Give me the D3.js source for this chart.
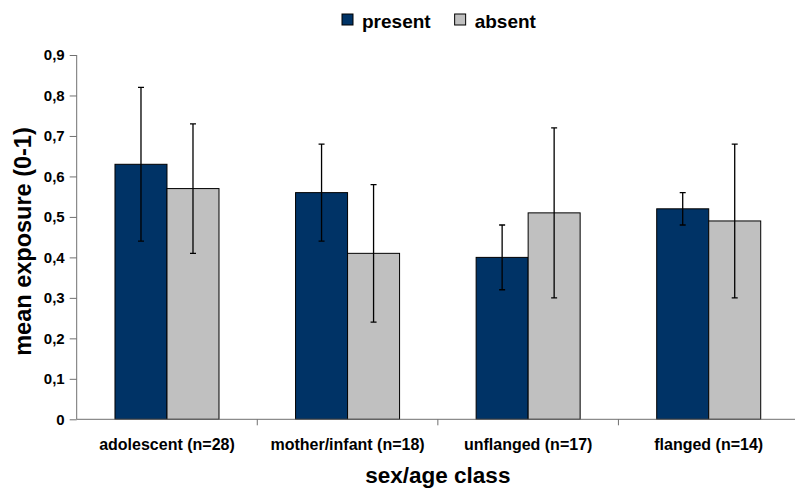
<!DOCTYPE html>
<html>
<head>
<meta charset="utf-8">
<script src="https://cdn.jsdelivr.net/npm/d3@7"></script>
<style>
	body { margin: 0; background: #fff; }
	svg { display: block; font-family: "Liberation Sans", Arial, sans-serif; font-weight: bold; }
</style>
</head>
<body>
<div id="chart"></div>
<script>
	// data
	var categories = ['adolescent (n=28)', 'mother/infant (n=18)', 'unflanged (n=17)', 'flanged (n=14)'];
	var seriesNames = ['present', 'absent'];
	var presentValues = [0.63, 0.56, 0.40, 0.52];
	var absentValues = [0.57, 0.41, 0.51, 0.49];
	var presentErrors = [0.19, 0.12, 0.08, 0.04];
	var absentErrors = [0.16, 0.17, 0.21, 0.19];
	var yTicks = [0, 0.1, 0.2, 0.3, 0.4, 0.5, 0.6, 0.7, 0.8, 0.9];

	var colors = {present: '#003366', absent: '#c0c0c0'};
	var axisColor = '#707070';

	var width = 795,
		height = 491,
		margin = {top: 55, right: -4, bottom: 72, left: 76.7};

	var series = [
		{name: seriesNames[0], values: presentValues, errors: presentErrors},
		{name: seriesNames[1], values: absentValues, errors: absentErrors}
	];

	var svg = d3.select('#chart').append('svg')
		.attr('width', width)
		.attr('height', height);

	var x0 = d3.scaleBand()
		.domain(categories)
		.range([margin.left, width - margin.right])
		.paddingInner(0.424)
		.paddingOuter(0.212);

	var x1 = d3.scaleBand()
		.domain(seriesNames)
		.range([0, x0.bandwidth()]);

	var y = d3.scaleLinear()
		.domain([0, 0.9])
		.range([height - margin.bottom + 0.3, margin.top]);

	// bars
	var groups = svg.selectAll('g.group')
		.data(categories)
		.enter().append('g')
		.attr('class', 'group')
		.attr('transform', function (d) {
			return 'translate(' + x0(d) + ',0)';
		});

	var cells = groups.selectAll('g.cell')
		.data(function (d, i) {
			return series.map(function (s) {
				return {name: s.name, value: s.values[i], err: s.errors[i]};
			});
		})
		.enter().append('g')
		.attr('class', 'cell');

	cells.append('rect')
		.attr('x', function (d) { return x1(d.name); })
		.attr('y', function (d) { return y(d.value); })
		.attr('width', x1.bandwidth())
		.attr('height', function (d) { return y(0) - y(d.value); })
		.attr('fill', function (d) { return colors[d.name]; })
		.attr('stroke', '#000')
		.attr('stroke-width', 1);

	// error bars
	var cap = 3;
	cells.append('path')
		.attr('fill', 'none')
		.attr('stroke', '#000')
		.attr('stroke-width', 1.3)
		.attr('d', function (d) {
			var cx = x1(d.name) + x1.bandwidth() / 2,
				top = y(d.value + d.err),
				bottom = y(d.value - d.err);
			return 'M' + cx + ',' + top + 'V' + bottom +
				'M' + (cx - cap) + ',' + top + 'H' + (cx + cap) +
				'M' + (cx - cap) + ',' + bottom + 'H' + (cx + cap);
		});

	// y axis
	var yAxis = svg.append('g')
		.attr('transform', 'translate(' + margin.left + ',0)')
		.call(d3.axisLeft(y)
			.tickValues(yTicks)
			.tickSize(7)
			.tickPadding(5)
			.tickFormat(function (d) {
				return d === 0 ? '0' : d3.format('.1f')(d).replace('.', ',');
			}));
	yAxis.select('.domain').attr('stroke', axisColor).attr('d', 'M0,' + y(0) + 'V' + y(0.9));
	yAxis.selectAll('.tick line').attr('stroke', axisColor);
	yAxis.selectAll('.tick text')
		.attr('fill', '#000')
		.style('font-family', '"Liberation Sans", Arial, sans-serif')
		.style('font-weight', 'bold')
		.style('font-size', '15px');

	// x axis: line, ticks at category boundaries, labels at centres
	var xAxis = svg.append('g').attr('class', 'x-axis');
	var step = x0.step(),
		boundaries = categories.map(function (d) {
			return x0(d) - (step - x0.bandwidth()) / 2;
		}).slice(1);

	xAxis.append('line')
		.attr('x1', margin.left)
		.attr('x2', width - margin.right)
		.attr('y1', y(0))
		.attr('y2', y(0))
		.attr('stroke', axisColor);

	xAxis.selectAll('line.tick')
		.data(boundaries)
		.enter().append('line')
		.attr('class', 'tick')
		.attr('x1', function (d) { return d; })
		.attr('x2', function (d) { return d; })
		.attr('y1', y(0))
		.attr('y2', y(0) + 6)
		.attr('stroke', axisColor);

	xAxis.selectAll('text')
		.data(categories)
		.enter().append('text')
		.attr('x', function (d) { return x0(d) + x0.bandwidth() / 2; })
		.attr('y', 450)
		.attr('text-anchor', 'middle')
		.style('font-size', '16px')
		.text(function (d) { return d; });

	// axis titles
	svg.append('text')
		.attr('x', (margin.left + 799) / 2)
		.attr('y', 483)
		.attr('text-anchor', 'middle')
		.style('font-size', '22.5px')
		.text('sex/age class');

	svg.append('text')
		.attr('transform', 'translate(31,241.5) rotate(-90)')
		.attr('text-anchor', 'middle')
		.style('font-size', '23.5px')
		.text('mean exposure (0-1)');

	// legend
	var legend = svg.append('g').attr('transform', 'translate(342,14)');
	var lx = 0;
	seriesNames.forEach(function (name) {
		var item = legend.append('g').attr('transform', 'translate(' + lx + ',0)');
		item.append('rect')
			.attr('width', 11)
			.attr('height', 11)
			.attr('fill', colors[name])
			.attr('stroke', '#000');
		var t = item.append('text')
			.attr('x', 20)
			.attr('y', 14)
			.style('font-size', '19px')
			.text(name);
		lx += 20 + t.node().getComputedTextLength() + 24;
	});
</script>
</body>
</html>
